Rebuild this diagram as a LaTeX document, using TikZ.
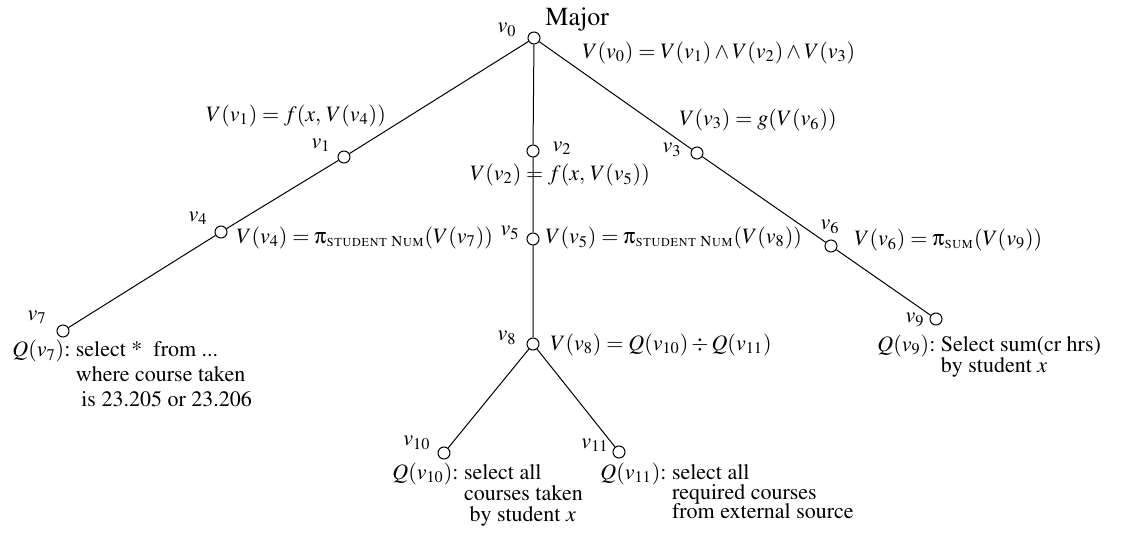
\documentclass[tikz,border=0pt]{standalone}
\usepackage{amsmath}
\usepackage[T1]{fontenc}
\usepackage{mathptmx}
\usepackage[Symbol]{upgreek}
\usetikzlibrary{positioning}
\newcommand{\dfont}{\fontsize{11}{12.5}\selectfont}
\newcommand{\projsc}[1]{\text{\fontsize{7.6}{8}\selectfont\textsc{#1}}}

\begin{document}
\begin{tikzpicture}[
  x=0.5pt, y=-0.5pt,
  vert/.style={draw, circle, inner sep=0pt, minimum size=6pt, line width=0.5pt, fill=white},
  vlbl/.style={inner sep=0pt, font=\dfont},
  eqn/.style={inner sep=0pt, font=\dfont},
  qry/.style={inner sep=0pt, font=\dfont, anchor=base west},
  edge/.style={line width=0.5pt}
]
  \useasboundingbox (0,0) rectangle (1125,534);

  \node[vert] (v0) at (534,38) {};
  \node[vert] (v1) at (344,157) {};
  \node[vert] (v2) at (533,151) {};
  \node[vert] (v3) at (697,153) {};
  \node[vert] (v4) at (221,232) {};
  \node[vert] (v5) at (533,239) {};
  \node[vert] (v6) at (831,246) {};
  \node[vert] (v7) at (63,331) {};
  \node[vert] (v8) at (533,344) {};
  \node[vert] (v9) at (936,319) {};
  \node[vert] (v10) at (444,453) {};
  \node[vert] (v11) at (619,452) {};

  \draw[edge] (v0) -- (v1) -- (v4) -- (v7);
  \draw[edge] (v0) -- (v2) -- (v5) -- (v8);
  \draw[edge] (v0) -- (v3) -- (v6) -- (v9);
  \draw[edge] (v8) -- (v10);
  \draw[edge] (v8) -- (v11);

  \node[vlbl] (l0) at (507,30) {$v_0$};
  \node[vlbl] (l1) at (321,145) {$v_1$};
  \node[vlbl] (l2) at (562,148) {$v_2$};
  \node[vlbl] (l3) at (672,150) {$v_3$};
  \node[vlbl] (l4) at (198,218) {$v_4$};
  \node[vlbl] (l5) at (510,233) {$v_5$};
  \node[vlbl] (l6) at (830,227) {$v_6$};
  \node[vlbl] (l7) at (37,317) {$v_7$};
  \node[vlbl] (l8) at (507,338) {$v_8$};
  \node[vlbl] (l9) at (915,320) {$v_9$};
  \node[vlbl] (l10) at (417,443) {$v_{10}$};
  \node[vlbl] (l11) at (595,445) {$v_{11}$};

  \node[inner sep=0pt, font=\fontsize{13}{15}\selectfont, anchor=west] (major) at (545,20) {Major};

  \node[eqn, anchor=west] (e0) at (582,53) {$V(v_0) = V(v_1) \wedge V(v_2) \wedge V(v_3)$};
  \node[eqn] (e1) at (296,116) {$V(v_1) = f(x,\, V(v_4))$};
  \node[eqn] (e2) at (560,175) {$V(v_2) = f(x,\, V(v_5))$};
  \node[eqn] (e3) at (758,120) {$V(v_3) = g(V(v_6))$};
  \node[eqn, anchor=west] (e4) at (236,238) {$V(v_4) = \uppi_{\projsc{student Num}}(V(v_7))$};
  \node[eqn, anchor=west] (e5) at (545,238) {$V(v_5) = \uppi_{\projsc{student Num}}(V(v_8))$};
  \node[eqn, anchor=west] (e6) at (854,240) {$V(v_6) = \uppi_{\projsc{sum}}(V(v_9))$};
  \node[eqn, anchor=west] (e8) at (550,345) {$V(v_8) = Q(v_{10}) \div Q(v_{11})$};

  \node[qry] (q7) at (12,357) {$Q(v_7)$:~\begin{tabular}[t]{@{}l@{}}select *\ \ from ...\\where course taken\\ \ is 23.205 or 23.206\end{tabular}};
  \node[qry] (q9) at (877,351) {$Q(v_9)$:~\begin{tabular}[t]{@{}l@{}}Select sum(cr hrs)\\[-2pt]by student $x$\end{tabular}};
  \node[qry] (q10) at (392,479) {$Q(v_{10})$:~\begin{tabular}[t]{@{}l@{}}select all\\[-2pt]courses taken\\[-2pt]\ by student $x$\end{tabular}};
  \node[qry] (q11) at (600,479) {$Q(v_{11})$:~\begin{tabular}[t]{@{}l@{}}select all\\[-2.5pt]required courses\\[-2.5pt]from external source\end{tabular}};
\end{tikzpicture}
\end{document}
